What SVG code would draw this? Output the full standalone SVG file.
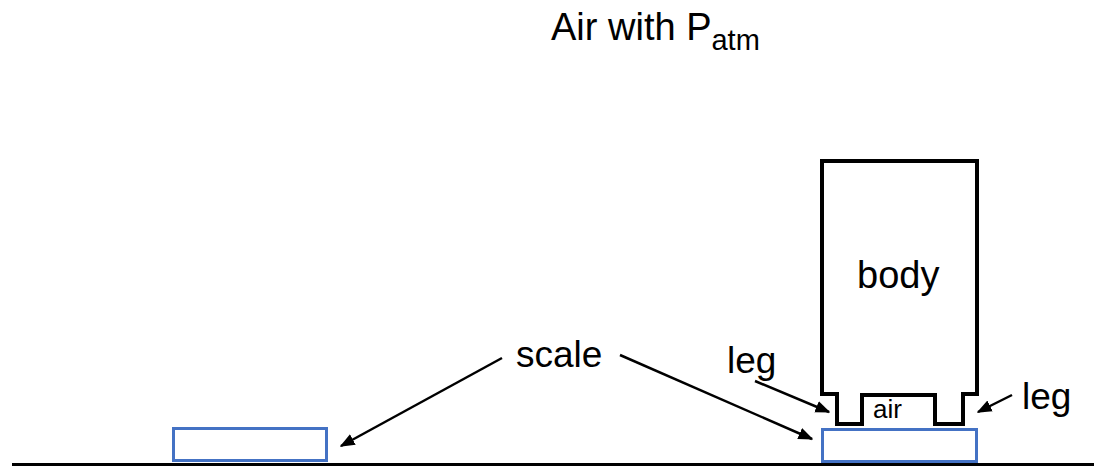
<svg xmlns="http://www.w3.org/2000/svg" width="1099" height="466" viewBox="0 0 1099 466">
<defs>
<style>
text{font-family:"Liberation Sans",Arial,sans-serif;fill:#000}
.lbl{font-size:37px}
.scale{fill:#fff;stroke:#4472C4;stroke-width:3}
.arr{stroke:#000;stroke-width:2.5;fill:none;marker-end:url(#ah)}
</style>
<marker id="ah" viewBox="0 0 10 10" refX="9" refY="5" markerWidth="6" markerHeight="6" orient="auto" markerUnits="strokeWidth">
<path d="M0,1 L10,5 L0,9 Z" fill="#000"/>
</marker>
</defs>
<rect width="1099" height="466" fill="#fff"/>
<g id="title"><text x="551" y="40" font-size="38">Air with P<tspan font-size="29" dy="10">atm</tspan></text></g>
<g id="ground"><line x1="12" y1="464.5" x2="1094" y2="464.5" stroke="#000" stroke-width="3"/></g>
<g id="scale-left"><rect class="scale" x="173.5" y="428.5" width="153" height="32"/></g>
<g id="scale-right"><rect class="scale" x="822.5" y="429.5" width="154" height="32"/></g>
<g id="body">
<path d="M822,161 H977 V394 H963 V424 H935 V395 H862 V424 H837 V394 H822 Z" fill="#fff" stroke="#000" stroke-width="4"/>
<text x="857" y="288" font-size="38">body</text>
<text x="873" y="418" font-size="26">air</text>
</g>
<g id="labels">
<text class="lbl" x="516" y="367">scale</text>
<text class="lbl" x="727" y="373">leg</text>
<text class="lbl" x="1022" y="409">leg</text>
</g>
<g id="connectors">
<line class="arr" x1="502" y1="358" x2="341" y2="446"/>
<line class="arr" x1="620" y1="355" x2="812" y2="439"/>
<line class="arr" x1="755" y1="381" x2="829" y2="412"/>
<line class="arr" x1="1012" y1="395" x2="978" y2="412"/>
</g>
</svg>
